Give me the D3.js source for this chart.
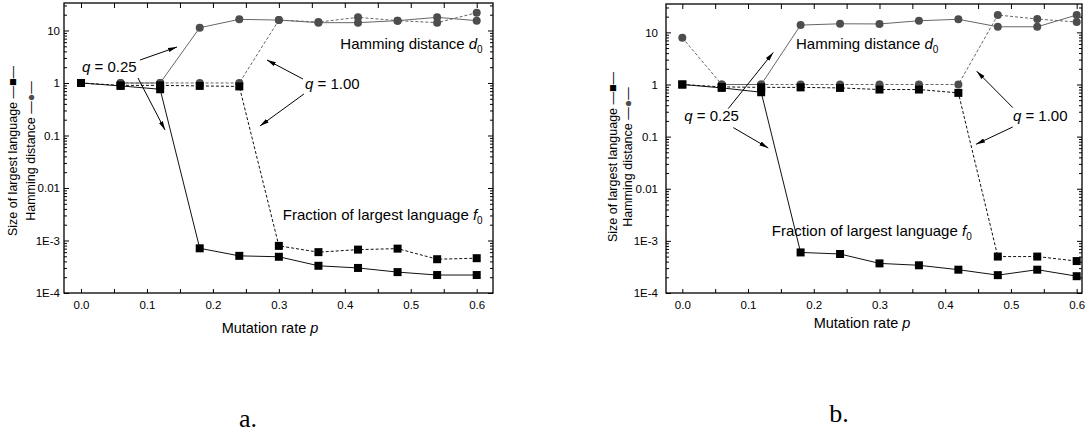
<!DOCTYPE html>
<html>
<head>
<meta charset="utf-8">
<script src="https://cdn.jsdelivr.net/npm/d3@7"></script>
<style>
body { margin: 0; background: #fff; }
text { font-family: "Liberation Sans", Arial, sans-serif; }
</style>
</head>
<body>
<svg id="chart" width="1091" height="434"></svg>
<script>
// mutation rates (x values, shared by every series)
var pRate = [0, 0.06, 0.12, 0.18, 0.24, 0.30, 0.36, 0.42, 0.48, 0.54, 0.60];

// panel a
var aF0q025 = [1, 0.88, 0.76, 7.1e-4, 5.1e-4, 4.9e-4, 3.3e-4, 3.0e-4, 2.5e-4, 2.2e-4, 2.2e-4];
var aF0q100 = [1, 0.9, 0.9, 0.88, 0.86, 7.9e-4, 6.0e-4, 6.7e-4, 7.0e-4, 4.4e-4, 4.6e-4];
var aD0q025 = [null, 1.0, 1.0, 11.3, 16.3, 15.8, 14.1, 14.1, 15.4, 17.8, 15.4];
var aD0q100 = [null, 1.0, 1.0, 1.0, 1.0, 15.8, 14.5, 17.8, 15.4, 14.1, 21.8];

// panel b
var bF0q025 = [1, 0.86, 0.71, 6.0e-4, 5.6e-4, 3.7e-4, 3.4e-4, 2.8e-4, 2.2e-4, 2.8e-4, 2.1e-4];
var bF0q100 = [1, 0.9, 0.88, 0.88, 0.86, 0.8, 0.8, 0.69, 5.0e-4, 5.0e-4, 4.1e-4];
var bD0q025 = [null, 1.0, 1.0, 13.8, 14.6, 14.5, 16.7, 17.8, 12.8, 12.8, 21.5];
var bD0q100 = [7.9, 1.0, 1.0, 1.0, 1.0, 1.0, 1.0, 1.0, 21.5, 18.0, 15.8];

// tick values and labels
var xTicks = [0, 0.1, 0.2, 0.3, 0.4, 0.5, 0.6];
var xMinor = [0.05, 0.15, 0.25, 0.35, 0.45, 0.55];
var yMajor = [1e-4, 1e-3, 0.01, 0.1, 1, 10];
var yTickLabels = ["1E-4", "1E-3", "0.01", "0.1", "1", "10"];

// annotation arrows [from, to] in data units (p, value)
var aArrows = [[[0.0895, 2.74], [0.1456, 4.85]], [[0.0864, 1.245], [0.1274, 0.127]],
               [[0.3366, 1.19], [0.282, 2.74]], [[0.338, 0.617], [0.2714, 0.152]]];
var bArrows = [[[0.070, 0.3455], [0.1384, 4.12]], [[0.0776, 0.149], [0.1308, 0.0604]],
               [[0.5027, 0.361], [0.4479, 1.80]], [[0.5027, 0.153], [0.4468, 0.0711]]];

var svg = d3.select("#chart");

svg.append("defs").append("marker")
   .attr("id", "arrow")
   .attr("markerUnits", "userSpaceOnUse")
   .attr("markerWidth", 10).attr("markerHeight", 6)
   .attr("viewBox", "0 -3 10 6")
   .attr("refX", 9).attr("refY", 0)
   .attr("orient", "auto")
   .append("path")
   .attr("d", "M0,-2.2L9,0L0,2.2Z")
   .attr("fill", "#000");

function drawPanel(cfg) {
	var x = d3.scaleLinear().domain(cfg.xDomain).range([cfg.left, cfg.right]),
		y = d3.scaleLog().domain([1e-4, cfg.yTop]).range([cfg.bottom, cfg.top]);

	var g = svg.append("g");
	var tickFont = function(sel) {
		sel.attr("font-family", "Liberation Sans, Arial, sans-serif").attr("font-size", 11.5);
		sel.select(".domain").remove();
		sel.selectAll(".tick line").attr("stroke", "#000");
		sel.selectAll(".tick text").attr("fill", "#000");
	};

	// bottom axis, labels + inward ticks
	g.append("g").attr("transform", "translate(0," + cfg.bottom + ")")
	 .call(d3.axisBottom(x).tickValues(xTicks).tickSize(-4).tickPadding(8).tickFormat(d3.format(".1f")))
	 .call(tickFont);
	g.append("g").attr("transform", "translate(0," + cfg.bottom + ")")
	 .call(d3.axisBottom(x).tickValues(xMinor).tickSize(-4).tickFormat(""))
	 .call(tickFont);
	// top axis, ticks only
	g.append("g").attr("transform", "translate(0," + cfg.top + ")")
	 .call(d3.axisTop(x).tickValues(xTicks.concat(xMinor)).tickSize(-5).tickFormat(""))
	 .call(tickFont);

	// minor log ticks
	var yMinor = y.ticks().filter(function(v) { return yMajor.indexOf(v) < 0; });

	g.append("g").attr("transform", "translate(" + cfg.left + ",0)")
	 .call(d3.axisLeft(y).tickValues(yMajor).tickSize(-5).tickPadding(cfg.labelPad)
	   .tickFormat(function(d, i) { return yTickLabels[i]; }))
	 .call(tickFont);
	g.append("g").attr("transform", "translate(" + cfg.left + ",0)")
	 .call(d3.axisLeft(y).tickValues(yMinor).tickSize(-3).tickFormat(""))
	 .call(tickFont);
	g.append("g").attr("transform", "translate(" + cfg.right + ",0)")
	 .call(d3.axisRight(y).tickValues(yMajor).tickSize(-5).tickFormat(""))
	 .call(tickFont);
	g.append("g").attr("transform", "translate(" + cfg.right + ",0)")
	 .call(d3.axisRight(y).tickValues(yMinor).tickSize(-3).tickFormat(""))
	 .call(tickFont);

	// frame
	g.append("rect")
	 .attr("x", cfg.left).attr("y", cfg.top)
	 .attr("width", cfg.right - cfg.left).attr("height", cfg.bottom - cfg.top)
	 .attr("fill", "none").attr("stroke", "#000").attr("stroke-width", 1.3);

	var line = d3.line()
		.defined(function(d) { return d[1] != null; })
		.x(function(d) { return x(d[0]); })
		.y(function(d) { return y(d[1]); });

	var series = [
		{vals: cfg.d0q100, stroke: "#666", dash: "3,2", shape: "circle"},
		{vals: cfg.d0q025, stroke: "#666", dash: null, shape: "circle"},
		{vals: cfg.f0q100, stroke: "#111", dash: "3,2", shape: "square"},
		{vals: cfg.f0q025, stroke: "#111", dash: null, shape: "square"}
	];

	series.forEach(function(s) {
		var pts = pRate.map(function(p, i) { return [p, s.vals[i]]; });
		g.append("path")
		 .datum(pts)
		 .attr("d", line)
		 .attr("fill", "none")
		 .attr("stroke", s.stroke)
		 .attr("stroke-width", 1)
		 .attr("stroke-dasharray", s.dash);
	});
	series.forEach(function(s) {
		var pts = pRate.map(function(p, i) { return [p, s.vals[i]]; })
					   .filter(function(d) { return d[1] != null; });
		if (s.shape == "circle") {
			g.selectAll(null).data(pts).enter().append("circle")
			 .attr("cx", function(d) { return x(d[0]); })
			 .attr("cy", function(d) { return y(d[1]); })
			 .attr("r", 4)
			 .attr("fill", "#4d4d4d");
		} else {
			g.selectAll(null).data(pts).enter().append("rect")
			 .attr("x", function(d) { return x(d[0]) - 4; })
			 .attr("y", function(d) { return y(d[1]) - 4; })
			 .attr("width", 8).attr("height", 8)
			 .attr("fill", "#000");
		}
	});

	// arrows
	cfg.arrows.forEach(function(a) {
		g.append("line")
		 .attr("x1", x(a[0][0])).attr("y1", y(a[0][1]))
		 .attr("x2", x(a[1][0])).attr("y2", y(a[1][1]))
		 .attr("stroke", "#000").attr("stroke-width", 1)
		 .attr("marker-end", "url(#arrow)");
	});

	// q labels
	cfg.qLabels.forEach(function(q) {
		var t = g.append("text")
				 .attr("x", x(q.p)).attr("y", y(q.v))
				 .attr("font-size", 15);
		t.append("tspan").attr("font-style", "italic").text("q");
		t.append("tspan").text(" = " + q.text);
	});

	// curve names
	cfg.names.forEach(function(n) {
		var t = g.append("text")
				 .attr("x", x(n.p)).attr("y", y(n.v))
				 .attr("text-anchor", "end")
				 .attr("font-size", 15);
		t.append("tspan").text(n.text + " ");
		t.append("tspan").attr("font-style", "italic").text(n.sym);
		t.append("tspan").attr("font-size", 10).attr("dy", 4).text("0");
	});

	// x title
	var xt = g.append("text")
			  .attr("x", cfg.xTitle[0]).attr("y", cfg.xTitle[1])
			  .attr("text-anchor", "middle")
			  .attr("font-size", 14.5);
	xt.append("tspan").text("Mutation rate ");
	xt.append("tspan").attr("font-style", "italic").text("p");

	// y title, two rotated lines
	var yt1 = g.append("text")
			   .attr("transform", "translate(" + cfg.yTitle[0] + "," + cfg.yTitle[2] + ") rotate(-90)")
			   .attr("text-anchor", "middle")
			   .attr("font-size", 12.5);
	yt1.append("tspan").text("Size of largest language \u2014");
	yt1.append("tspan").attr("fill", "#000").text("\u25A0");
	yt1.append("tspan").text("\u2014");
	var yt2 = g.append("text")
			   .attr("transform", "translate(" + cfg.yTitle[1] + "," + cfg.yTitle[2] + ") rotate(-90)")
			   .attr("text-anchor", "middle")
			   .attr("font-size", 12.5);
	yt2.append("tspan").text("Hamming distance \u2014");
	yt2.append("tspan").attr("fill", "#4d4d4d").text("\u25CF");
	yt2.append("tspan").text("\u2014");

	// panel letter
	g.append("text")
	 .attr("x", cfg.letter[0]).attr("y", cfg.letter[1])
	 .attr("text-anchor", "middle")
	 .attr("font-family", "Liberation Serif, DejaVu Serif, serif")
	 .attr("font-size", 26)
	 .style("font-family", "'Liberation Serif', serif")
	 .text(cfg.letter[2]);
}

drawPanel({
	left: 64, right: 493, top: 3, bottom: 293,
	xDomain: [-0.0258, 0.6247], yTop: 33.4, labelPad: 4,
	f0q025: aF0q025, f0q100: aF0q100, d0q025: aD0q025, d0q100: aD0q100,
	arrows: aArrows,
	qLabels: [{p: 0.0015, v: 1.62, text: "0.25"}, {p: 0.3397, v: 0.769, text: "1.00"}],
	names: [{p: 0.609, v: 4.38, text: "Hamming distance", sym: "d"},
			{p: 0.609, v: 2.46e-3, text: "Fraction of largest language", sym: "f"}],
	xTitle: [270, 333],
	yTitle: [17, 35, 151],
	letter: [248, 427, "a."]
});

drawPanel({
	left: 666, right: 1082, top: 4, bottom: 293,
	xDomain: [-0.0248, 0.6081], yTop: 35, labelPad: 8,
	f0q025: bF0q025, f0q100: bF0q100, d0q025: bD0q025, d0q100: bD0q100,
	arrows: bArrows,
	qLabels: [{p: 0.003, v: 0.197, text: "0.25"}, {p: 0.503, v: 0.197, text: "1.00"}],
	names: [{p: 0.3895, v: 4.84, text: "Hamming distance", sym: "d"},
			{p: 0.4403, v: 1.26e-3, text: "Fraction of largest language", sym: "f"}],
	xTitle: [862, 328],
	yTitle: [617, 632, 157],
	letter: [839, 422, "b."]
});
</script>
</body>
</html>
